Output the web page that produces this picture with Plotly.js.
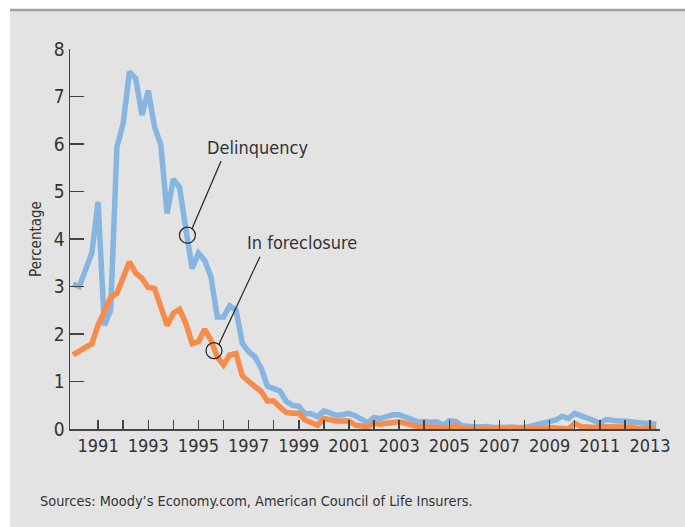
<!DOCTYPE html>
<html>
<head>
<meta charset="utf-8">
<script src="https://cdn.plot.ly/plotly-3.0.1.min.js"></script>
<style>html,body{margin:0;padding:0;background:#fff;}#chart{width:685px;height:527px;}</style>
</head>
<body>
<div id="chart"></div>
<script>
// Quarterly data, 1990 Q1 .. 2013 Q2
const startYear = 1990;
const delinquency = [
  3.05, 3.00, 3.35, 3.70,
  4.78, 2.18, 2.50, 5.94,
  6.43, 7.52, 7.38, 6.61,
  7.12, 6.36, 5.98, 4.54,
  5.26, 5.08, 4.20, 3.38,
  3.70, 3.55, 3.20, 2.36,
  2.36, 2.59, 2.50, 1.80,
  1.63, 1.52, 1.28, 0.90,
  0.85, 0.80, 0.58, 0.50,
  0.48, 0.32, 0.32, 0.26,
  0.38, 0.32, 0.29, 0.30,
  0.33, 0.28, 0.22, 0.13,
  0.24, 0.22, 0.26, 0.30,
  0.30, 0.26, 0.20, 0.15,
  0.16, 0.14, 0.15, 0.08,
  0.17, 0.16, 0.07, 0.05,
  0.05, 0.04, 0.05, 0.03,
  0.04, 0.03, 0.04, 0.03,
  0.03, 0.06, 0.09, 0.12,
  0.15, 0.19, 0.27, 0.22,
  0.33, 0.28, 0.22, 0.17,
  0.13, 0.20, 0.18, 0.17,
  0.17, 0.15, 0.13, 0.12,
  0.12, 0.10
];
const foreclosure = [
  1.56, 1.65, 1.72, 1.79,
  2.19, 2.47, 2.77, 2.86,
  3.21, 3.52, 3.28, 3.17,
  2.98, 2.96, 2.57, 2.18,
  2.44, 2.52, 2.22, 1.80,
  1.84, 2.10, 1.87, 1.52,
  1.35, 1.56, 1.59, 1.12,
  1.00, 0.89, 0.79, 0.59,
  0.59, 0.46, 0.35, 0.33,
  0.33, 0.19, 0.15, 0.08,
  0.22, 0.19, 0.17, 0.17,
  0.17, 0.08, 0.07, 0.05,
  0.12, 0.10, 0.12, 0.14,
  0.15, 0.12, 0.08, 0.05,
  0.05, 0.04, 0.02, 0.02,
  0.02, 0.08, 0.01, 0.00,
  0.00, 0.00, 0.00, 0.00,
  0.00, 0.00, 0.00, 0.00,
  0.00, 0.01, 0.01, 0.01,
  0.03, 0.02, 0.01, 0.00,
  0.12, 0.05, 0.04, 0.03,
  0.05, 0.05, 0.05, 0.04,
  0.04, 0.04, 0.00, 0.00,
  0.01, 0.01
];
const tickYears = [1991,1992,1993,1994,1995,1996,1997,1998,1999,2000,2001,2002,2003,2004,2005,2006,2007,2008,2009,2010,2011,2012,2013];
const tickLabels = ["1991","","1993","","1995","","1997","","1999","","2001","","2003","","2005","","2007","","2009","","2011","","2013"];
const yTicks = [0,1,2,3,4,5,6,7,8];

const quarters = delinquency.map((_, i) => startYear + i / 4);

const FONT = '"DejaVu Sans Condensed", "Liberation Sans Narrow", sans-serif';
const TXT = '#333333';

const traces = [
  {x: quarters, y: delinquency, type: 'scatter', mode: 'lines', name: 'Delinquency',
   line: {color: '#85b5e0', width: 5.5, shape: 'linear'}, hoverinfo: 'skip'},
  {x: quarters, y: foreclosure, type: 'scatter', mode: 'lines', name: 'In foreclosure',
   line: {color: '#f68b4b', width: 5.5, shape: 'linear'}, hoverinfo: 'skip'}
];

const layout = {
  width: 685, height: 527,
  margin: {l: 70, r: 25, t: 49, b: 98, pad: 0},
  paper_bgcolor: '#ffffff',
  plot_bgcolor: 'rgba(0,0,0,0)',
  showlegend: false,
  font: {family: FONT, color: TXT},
  xaxis: {
    range: [1989.88, 2013.4],
    tickvals: tickYears, ticktext: tickLabels,
    ticks: 'inside', ticklen: 9, tickwidth: 1.5, tickcolor: '#444',
    showline: true, linecolor: '#444', linewidth: 1.5,
    showgrid: false, zeroline: false,
    tickfont: {family: FONT, size: 18, color: TXT}
  },
  yaxis: {
    range: [0, 8],
    tickvals: yTicks,
    ticks: 'inside', ticklen: 14, tickwidth: 1.5, tickcolor: '#444',
    showline: true, linecolor: '#444', linewidth: 1.5,
    showgrid: false, zeroline: false,
    tickfont: {family: FONT, size: 19, color: TXT},
    title: {text: 'Percentage', font: {family: FONT, size: 15, color: TXT}, standoff: 8}
  },
  shapes: [
    {type: 'rect', xref: 'paper', yref: 'paper', x0: -0.1017, x1: 1.1, y0: -0.3, y1: 1.1026,
     fillcolor: '#e3e3e3', line: {width: 0}, layer: 'below'},
    {type: 'line', xref: 'paper', yref: 'paper', x0: -0.1017, x1: 1.1, y0: 1.1026, y1: 1.1026,
     line: {color: '#a0a0a0', width: 2.5}},
    {type: 'circle', xref: 'x', yref: 'y', xsizemode: 'pixel', ysizemode: 'pixel',
     xanchor: 1994.56, yanchor: 4.08, x0: -8, x1: 8, y0: -8, y1: 8,
     line: {color: '#222', width: 1.2}},
    {type: 'line', xref: 'x', yref: 'y', xsizemode: 'pixel', ysizemode: 'pixel',
     xanchor: 1994.56, yanchor: 4.08, x0: 4.7, y0: 6.7, x1: 33.7, y1: 74.3,
     line: {color: '#222', width: 1.2}},
    {type: 'circle', xref: 'x', yref: 'y', xsizemode: 'pixel', ysizemode: 'pixel',
     xanchor: 1995.62, yanchor: 1.65, x0: -8, x1: 8, y0: -8, y1: 8,
     line: {color: '#222', width: 1.2}},
    {type: 'line', xref: 'x', yref: 'y', xsizemode: 'pixel', ysizemode: 'pixel',
     xanchor: 1995.62, yanchor: 1.65, x0: 4.6, y0: 5.7, x1: 46, y1: 94,
     line: {color: '#222', width: 1.2}}
  ],
  annotations: [
    {text: 'Delinquency', xref: 'x', yref: 'y', x: 1997.34, y: 5.92, xanchor: 'center', yanchor: 'middle',
     showarrow: false, font: {family: FONT, size: 18, color: TXT}},
    {text: 'In foreclosure', xref: 'x', yref: 'y', x: 1999.11, y: 3.92, xanchor: 'center', yanchor: 'middle',
     showarrow: false, font: {family: FONT, size: 18, color: TXT}},
    {text: 'Sources: Moody\u2019s Economy.com, American Council of Life Insurers.', xref: 'paper', yref: 'paper',
     x: -0.054, y: -0.189, xanchor: 'left', yanchor: 'middle', showarrow: false,
     font: {family: FONT, size: 14.4, color: TXT}}
  ]
};

Plotly.newPlot('chart', traces, layout, {staticPlot: true, displayModeBar: false});
</script>
</body>
</html>
